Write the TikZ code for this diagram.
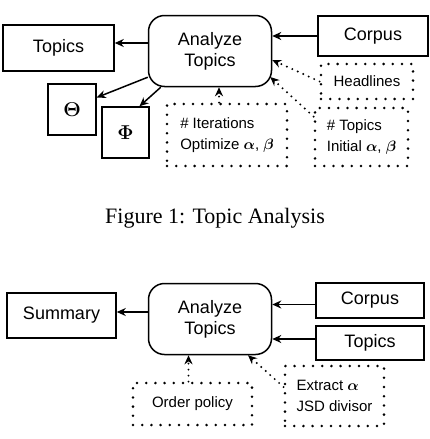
\documentclass[tikz,border=0pt]{standalone}
\usepackage{fix-cm}
\usepackage{amsmath}
\usepackage{bm}
\usepackage[no-math]{fontspec}
\setmainfont{Liberation Sans}
\newfontfamily\capfont{Liberation Serif}
\usetikzlibrary{arrows.meta}
\providecommand{\taBoxLineWidth}{1.5pt}
\providecommand{\taDotLineWidth}{2.8pt}
\providecommand{\taBigText}{\fontsize{18}{21}\selectfont}
\providecommand{\taSmallText}{\fontsize{15}{21}\selectfont}
\tikzset{
  solidbox/.style={draw, line width=\taBoxLineWidth, inner sep=0pt, font=\taBigText},
  procbox/.style={solidbox, rounded corners=16pt, minimum width=123pt, minimum height=71pt, align=center},
  dotbox/.style={draw, line width=\taDotLineWidth, line cap=round, dash pattern=on 0pt off 9.2pt,
    inner sep=0pt, font=\taSmallText, align=left},
  flow/.style={line width=\taBoxLineWidth, -{Stealth[length=9pt,width=8pt]}},
  param/.style={line width=2.2pt, line cap=round, dash pattern=on 0pt off 6pt,
    -{Stealth[length=9pt,width=8pt]}}
}
\begin{document}
\begin{tikzpicture}[x=1pt, y=-1pt]
\useasboundingbox (0,0) rectangle (429,439);
% Topic analysis
\node[procbox] (ana1) at (210,51) {Analyze\\Topics};
\node[solidbox, minimum width=111pt, minimum height=46pt] (topout1) at (58.5,48) {Topics};
\node[solidbox, minimum width=110pt, minimum height=40pt] (corp1) at (373,36) {Corpus};
\node[solidbox, minimum width=48pt, minimum height=51pt, font=\fontsize{20}{24}\selectfont] (theta) at (72,109.5) {$\bm{\Theta}$};
\node[solidbox, minimum width=47pt, minimum height=51pt, font=\fontsize{20}{24}\selectfont] (phi) at (125.5,132.5) {$\bm{\Phi}$};
\node[dotbox, minimum width=120pt, minimum height=62pt] (iter) at (227,135)
  {\# Iterations\\Optimize $\bm{\alpha}$, $\bm{\beta}$};
\node[dotbox, minimum width=92pt, minimum height=35pt] (head) at (367,81.5) {Headlines};
\node[dotbox, minimum width=93pt, minimum height=58pt] (ntop) at (361.5,137)
  {\# Topics\\Initial $\bm{\alpha}$, $\bm{\beta}$};
\draw[flow] ([yshift=8pt]ana1.west) -- ([yshift=8pt]ana1.west -| topout1.east);
\draw[flow] (corp1.west) -- (corp1.west -| ana1.east);
\draw[flow] ([yshift=10pt]ana1.south west) -- ([yshift=12pt]theta.east);
\draw[flow] ([xshift=13pt]ana1.south west) -- ([xshift=14pt]phi.north);
\draw[param] ([xshift=-8pt]iter.north) -- ([xshift=-8pt]iter.north |- ana1.south);
\draw[param] (head.west) -- ([yshift=-9pt]ana1.east);
\draw[param] ([yshift=-10pt]ntop.north west) -- ([xshift=-2pt,yshift=-26pt]ana1.east);
% Caption
\node[font=\capfont\fontsize{22}{26}\selectfont, anchor=base] (cap) at (215,223) {Figure 1: Topic Analysis};
% Summary
\node[procbox] (ana2) at (210,319) {Analyze\\Topics};
\node[solidbox, minimum width=109pt, minimum height=45pt] (summ) at (61.5,315.5) {Summary};
\node[solidbox, minimum width=108pt, minimum height=35pt] (corp2) at (370,300.5) {Corpus};
\node[solidbox, minimum width=108pt, minimum height=34pt] (top2) at (370,343) {Topics};
\node[dotbox, minimum width=119pt, minimum height=42pt] (order) at (192.5,404) {Order policy};
\node[dotbox, minimum width=99pt, minimum height=60pt] (extr) at (334.5,396)
  {Extract $\bm{\alpha}$\\JSD divisor};
\draw[flow] ([yshift=7pt]ana2.west) -- ([yshift=7pt]ana2.west -| summ.east);
\draw[flow] ([yshift=-4pt]corp2.west) -- ([yshift=-4pt]corp2.west -| ana2.east);
\draw[flow] ([yshift=4pt]top2.west) -- ([yshift=4pt]top2.west -| ana2.east);
\draw[param] ([xshift=-4pt]order.north) -- ([xshift=-4pt]order.north |- ana2.south);
\draw[param] ([yshift=9pt]extr.west) -- ([xshift=38pt]ana2.south);
\end{tikzpicture}
\end{document}
